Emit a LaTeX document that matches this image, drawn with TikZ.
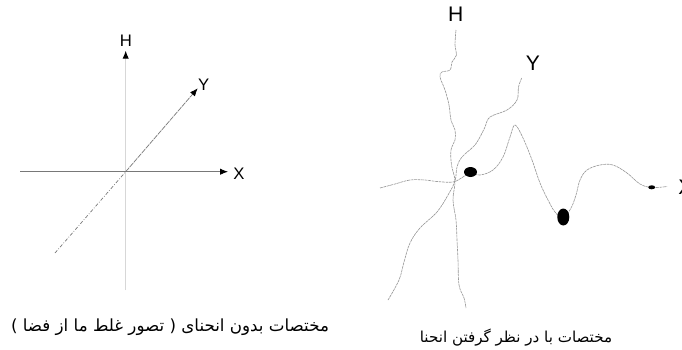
\documentclass[tikz,border=0pt]{standalone}
\usepackage{fontspec}
\setmainfont{Liberation Sans}
\newfontfamily\arabicfont[Script=Arabic]{DejaVu Sans}
\TeXXeTstate=1
\usetikzlibrary{arrows.meta}
\definecolor{axisgray}{RGB}{120,120,120}
\definecolor{lightaxis}{RGB}{215,215,215}
\definecolor{curvegray}{RGB}{150,150,150}
\tikzset{
axis/.style={color=axisgray, line width=0.5pt},
axisarrow/.style={-{Latex[length=4.5pt,width=3.6pt,color=black]}},
bentaxis/.style={color=curvegray, dash pattern=on 1.6pt off 0.4pt, line width=0.35pt},
lbl/.style={inner sep=0pt, font=\fontsize{9.5}{11}\selectfont},
biglbl/.style={inner sep=0pt, font=\fontsize{12}{14}\selectfont},
caption/.style={inner sep=0pt, font=\arabicfont\fontsize{9.5}{11}\selectfont}
}

\begin{document}
\begin{tikzpicture}[x=0.02cm, y=-0.02cm]
\useasboundingbox (0,0) rectangle (682,349);

%flat axes:
\coordinate (O) at (125.7,171.7);
\coordinate (Htip) at (125.7,50.7);
\coordinate (Hend) at (125.7,290);
\coordinate (Xtip) at (228,171.7);
\coordinate (Xend) at (20,171.7);
\coordinate (Ytip) at (197.7,88.3);
\coordinate (Yend) at (55,253);

\draw[color=lightaxis, line width=0.5pt] (Hend) -- (O);
\draw[axisarrow, color=lightaxis, line width=0.5pt] (O) -- (Htip);
\draw[axis, axisarrow] (Xend) -- (Xtip);
\draw[color=axisgray, line width=0.4pt, dash pattern=on 2pt off 1pt on 0.4pt off 1pt] (Yend) -- (O);
\draw[axisarrow, color=axisgray, line width=0.4pt, dash pattern=on 3pt off 0.5pt] (O) -- (Ytip);

\node[lbl] (Hflat) at (125.8,40.8) {H};
\node[lbl] (Xflat) at (239,174) {X};
\node[lbl] (Yflat) at (203.7,85) {Y};

%bent axes:
\draw[bentaxis] plot[smooth, tension=0.6] coordinates {(456,30) (455,45) (456.5,55) (452,62) (450,70) (442,72) (440,77) (445,90) (449,105) (451,120) (455,130) (455,140) (451,150) (451.5,165) (455,181) (453,200) (456,220) (457,240) (458,260) (459,285) (464,298) (466,308)};
\draw[bentaxis] plot[smooth, tension=0.6] coordinates {(521.7,78) (518.5,87) (517,100) (507,110) (490,117) (485,127) (480,137) (474,146) (462,157) (457,167) (455,181) (448,195) (437,212) (420,228) (410,243) (404,262) (399,280) (388,300)};
\draw[bentaxis] plot[smooth, tension=0.6] coordinates {(380,188) (395,184) (410,180) (425,180) (437,181.5) (453,182) (463,177) (470,173) (480,175) (493,170) (503,157) (510,137) (515,125) (523,138) (532,160) (540,183) (548,200) (555,212) (563,218) (571,208) (576,195) (580,180) (587,170) (600,165) (613,165) (627,173) (640,184) (652,187.5) (667,186.5)};

%masses on the bent axis
\fill (470.5,172) ellipse [x radius=6.5, y radius=5];
\fill (563.3,217) ellipse [x radius=6, y radius=8.5];
\fill (651.7,187.3) ellipse [x radius=3.5, y radius=2];

\node[biglbl] (Hbent) at (455.8,14.2) {H};
\node[biglbl] (Ybent) at (533,63.5) {Y};
\node[biglbl] (Xbent) at (685.5,187) {X};

%captions
\node[caption] (flatcap) at (170,327) {\beginR مختصات بدون انحنای ( تصور غلط ما از فضا )\endR};
\node[caption, font=\arabicfont\fontsize{8.6}{10}\selectfont] (bentcap) at (516,338) {\beginR مختصات با در نظر گرفتن انحنا\endR};
\end{tikzpicture}
\end{document}
